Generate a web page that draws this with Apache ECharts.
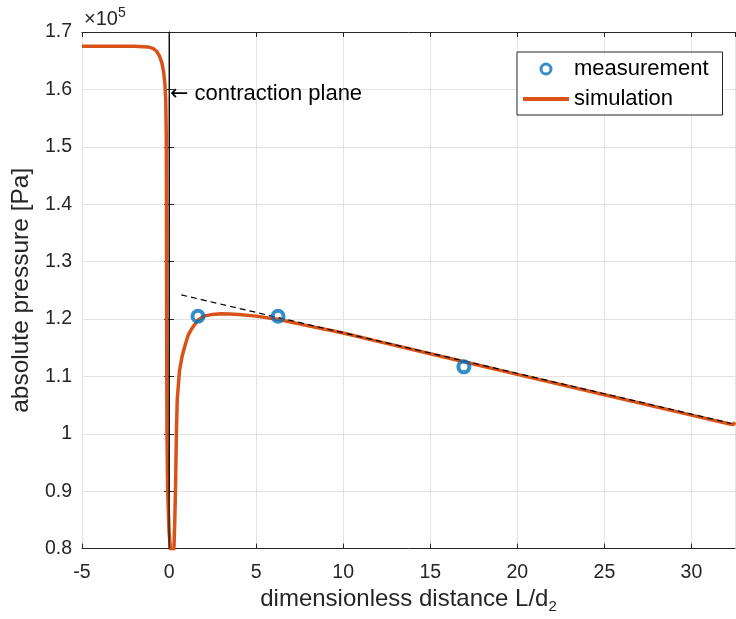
<!DOCTYPE html>
<html><head><meta charset="utf-8">
<script src="https://cdn.jsdelivr.net/npm/echarts@6/dist/echarts.min.js"></script>
<style>html,body{margin:0;padding:0;background:#fff}#c{width:736px;height:619px}</style>
</head><body><div id="c"></div>
<script>
// pressure values in units of 1e5 Pa
const simX = [-5, -2, -1.2, -0.9, -0.7, -0.55, -0.42, -0.32, -0.24, -0.19, -0.16, -0.15, -0.14, -0.12, -0.08, 0, 0.1, 0.2, 0.28, 0.33, 0.38, 0.42, 0.47, 0.6, 0.75, 0.9, 1.1, 1.3, 1.65, 2.0, 2.5, 3.0, 3.5, 4.0, 5.0, 6.3, 8, 10, 12, 15, 17.3, 20, 25, 30, 32.2, 32.4, 32.5];
const simY = [1.675, 1.675, 1.674, 1.671, 1.666, 1.658, 1.647, 1.632, 1.61, 1.58, 1.52, 1.4, 1.2, 1.0, 0.9, 0.83, 0.79, 0.78, 0.8, 0.85, 0.92, 1.0, 1.06, 1.11, 1.135, 1.152, 1.172, 1.183, 1.198, 1.205, 1.208, 1.209, 1.2088, 1.208, 1.205, 1.199, 1.188, 1.1755, 1.161, 1.1395, 1.123, 1.1035, 1.068, 1.0325, 1.017, 1.016, 1.020];
const measX = [1.66, 6.26, 16.93];
const measY = [1.2047, 1.2047, 1.1166];
const fitX = [0.7, 32.3];
const fitY = [1.242, 1.018];
const planeX = [0, 0];
const planeY = [0.8, 1.7];
const xTicks = [-5, 0, 5, 10, 15, 20, 25, 30];
const yTicks = [0.8, 0.9, 1, 1.1, 1.2, 1.3, 1.4, 1.5, 1.6, 1.7];

const zip = (a, b) => a.map((v, i) => [v, b[i]]);
const FONT = 'Liberation Sans, Arial, Helvetica, sans-serif';
const AX = '#262626';
const BLUE = '#0072BD', ORANGE = '#D95319';

const chart = echarts.init(document.getElementById('c'), null, {renderer: 'canvas'});
chart.setOption({
  animation: false,
  backgroundColor: '#fff',
  textStyle: {fontFamily: FONT},
  grid: {left: 82, top: 32, right: 1, bottom: 70, containLabel: false},
  legend: {
    left: 517, top: 52, orient: 'vertical',
    padding: [5, 14, 4, 6],
    itemWidth: 46, itemHeight: 10, itemGap: 6,
    borderColor: AX, borderWidth: 1, backgroundColor: '#fff',
    textStyle: {fontSize: 22, color: '#000', fontFamily: FONT, lineHeight: 24},
    data: [
      {name: 'measurement', icon: 'circle', itemStyle: {color: 'rgba(255,255,255,0)', borderColor: BLUE, borderWidth: 3}},
      {name: 'simulation', icon: 'path://M0,0L46,0L46,4L0,4Z', itemStyle: {color: ORANGE, borderWidth: 0}}
    ]
  },
  xAxis: [{
    type: 'value', min: xTicks[0], max: 32.5, interval: 5,
    name: 'dimensionless distance L/d{s|2}', nameLocation: 'middle', nameGap: 34,
    nameTextStyle: {fontSize: 24, color: '#262626', fontFamily: FONT, rich: {s: {fontSize: 15, verticalAlign: 'bottom', padding: [14, 0, 0, 0], fontFamily: FONT, color: '#262626'}}},
    axisLine: {show: true, lineStyle: {color: AX, width: 1}},
    axisTick: {show: true, inside: true, length: 5, lineStyle: {color: AX}},
    axisLabel: {fontSize: 19.5, color: '#262626', margin: 14, showMaxLabel: false, fontFamily: FONT},
    splitLine: {show: true, lineStyle: {color: '#e3e3e3', width: 1}}
  }, {
    type: 'value', position: 'top', min: xTicks[0], max: 32.5, interval: 5,
    axisLine: {show: true, lineStyle: {color: AX, width: 1}},
    axisTick: {show: true, inside: true, length: 5, lineStyle: {color: AX}},
    axisLabel: {show: false}, splitLine: {show: false}
  }],
  yAxis: [{
    type: 'value', min: yTicks[0], max: yTicks[yTicks.length - 1], interval: 0.1,
    name: 'absolute pressure [Pa]', nameLocation: 'middle', nameGap: 46,
    nameTextStyle: {fontSize: 24.5, color: '#262626', fontFamily: FONT},
    axisLine: {show: true, lineStyle: {color: AX, width: 1}},
    axisTick: {show: true, inside: true, length: 5, lineStyle: {color: AX}},
    axisLabel: {fontSize: 19.5, color: '#262626', margin: 10, fontFamily: FONT,
      formatter: v => String(Number(v.toFixed(1)))},
    splitLine: {show: true, lineStyle: {color: '#e3e3e3', width: 1}}
  }, {
    type: 'value', position: 'right', min: yTicks[0], max: yTicks[yTicks.length - 1], interval: 0.1,
    axisLine: {show: true, lineStyle: {color: AX, width: 1}},
    axisTick: {show: true, inside: true, length: 5, lineStyle: {color: AX}},
    axisLabel: {show: false}, splitLine: {show: false}
  }],
  series: [
    {
      name: 'simulation', type: 'line', data: zip(simX, simY),
      showSymbol: false, symbol: 'none', clip: true, z: 3,
      lineStyle: {color: ORANGE, width: 3.5}, itemStyle: {color: ORANGE}
    },
    {
      name: 'plane', type: 'line', data: zip(planeX, planeY),
      showSymbol: false, symbol: 'none', z: 4, silent: true,
      lineStyle: {color: '#000', width: 1}
    },
    {
      name: 'fit', type: 'line', data: zip(fitX, fitY),
      showSymbol: false, symbol: 'none', z: 5, silent: true,
      lineStyle: {color: '#000', width: 1.2, type: [6, 4]}
    },
    {
      name: 'measurement', type: 'scatter', data: zip(measX, measY),
      symbol: 'circle', symbolSize: 11, z: 6,
      itemStyle: {color: 'rgba(255,255,255,0)', borderColor: BLUE, borderWidth: 4}
    }
  ],
  graphic: [
    {type: 'text', left: 170, top: 83, z: 10, style: {text: '{a|\u2190} contraction plane', fill: '#000', font: '22px ' + FONT,
      rich: {a: {fontFamily: 'DejaVu Sans', fontSize: 22, fill: '#000'}}}},
    {type: 'text', left: 84, top: 6, z: 10, style: {text: '\u00d710{s|5}', fill: '#262626', font: '20px ' + FONT,
      rich: {s: {fontSize: 14, verticalAlign: 'top', padding: [0, 0, 12, 0], fontFamily: FONT, fill: '#262626'}}}}
  ]
});
</script></body></html>
